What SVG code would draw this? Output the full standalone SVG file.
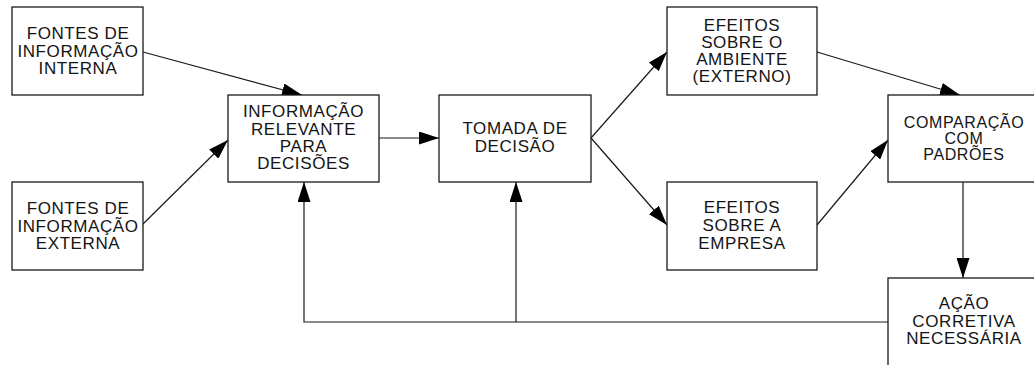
<svg xmlns="http://www.w3.org/2000/svg" width="1034" height="365" viewBox="0 0 1034 365">
  <style>
    .box { fill: #ffffff; stroke: #1a1a1a; stroke-width: 1.3; }
    .lbl { font-family: "Liberation Sans", Arial, sans-serif; font-size: 17px; letter-spacing: 0.6px; fill: #141414; text-anchor: middle; }
    .sm { font-size: 16px; }
    .wire { fill: none; stroke: #1a1a1a; stroke-width: 1.2; }
  </style>
  <defs>
    <marker id="head" markerUnits="userSpaceOnUse" markerWidth="20" markerHeight="13" refX="20" refY="6.5" orient="auto">
      <path d="M0,0 L20,6.5 L0,13 Z" fill="#000"/>
    </marker>
  </defs>
  <rect width="1034" height="365" fill="#ffffff"/>

  <!-- connectors -->
  <g id="connectors">
    <line class="wire" x1="143" y1="52" x2="302" y2="95" marker-end="url(#head)"/>
    <line class="wire" x1="143" y1="224" x2="228" y2="140" marker-end="url(#head)"/>
    <line class="wire" x1="379" y1="138" x2="439" y2="138" marker-end="url(#head)"/>
    <line class="wire" x1="591" y1="138" x2="667" y2="52" marker-end="url(#head)"/>
    <line class="wire" x1="591" y1="138" x2="667" y2="225" marker-end="url(#head)"/>
    <line class="wire" x1="817" y1="52" x2="960" y2="95" marker-end="url(#head)"/>
    <line class="wire" x1="817" y1="225" x2="888" y2="140" marker-end="url(#head)"/>
    <line class="wire" x1="963" y1="182" x2="963" y2="278" marker-end="url(#head)"/>
    <polyline class="wire" points="888,322 304,322 304,182" marker-end="url(#head)"/>
    <line class="wire" x1="516" y1="322" x2="516" y2="182" marker-end="url(#head)"/>
  </g>

  <!-- nodes -->
  <g id="fontes-interna">
    <rect class="box" x="12" y="7" width="131" height="88"/>
    <text class="lbl" x="78" y="39">FONTES DE</text>
    <text class="lbl" x="78" y="56.5">INFORMAÇÃO</text>
    <text class="lbl" x="78" y="74">INTERNA</text>
  </g>

  <g id="fontes-externa">
    <rect class="box" x="12" y="182" width="131" height="88"/>
    <text class="lbl" x="78" y="214">FONTES DE</text>
    <text class="lbl" x="78" y="231.5">INFORMAÇÃO</text>
    <text class="lbl" x="78" y="249">EXTERNA</text>
  </g>

  <g id="informacao-relevante">
    <rect class="box" x="228" y="95" width="151" height="87"/>
    <text class="lbl" x="303.5" y="117.3">INFORMAÇÃO</text>
    <text class="lbl" x="303.5" y="134.8">RELEVANTE</text>
    <text class="lbl" x="303.5" y="152">PARA</text>
    <text class="lbl" x="303.5" y="169.3">DECISÕES</text>
  </g>

  <g id="tomada-decisao">
    <rect class="box" x="439" y="95" width="152" height="87"/>
    <text class="lbl" x="515" y="134.3">TOMADA DE</text>
    <text class="lbl" x="515" y="152.3">DECISÃO</text>
  </g>

  <g id="efeitos-ambiente">
    <rect class="box" x="667" y="7" width="150" height="88"/>
    <text class="lbl" x="742" y="30.5">EFEITOS</text>
    <text class="lbl" x="742" y="47.8">SOBRE O</text>
    <text class="lbl" x="742" y="65">AMBIENTE</text>
    <text class="lbl" x="742" y="82.3">(EXTERNO)</text>
  </g>

  <g id="efeitos-empresa">
    <rect class="box" x="667" y="182" width="150" height="88"/>
    <text class="lbl" x="742" y="213.3">EFEITOS</text>
    <text class="lbl" x="742" y="231">SOBRE A</text>
    <text class="lbl" x="742" y="248.7">EMPRESA</text>
  </g>

  <g id="comparacao">
    <rect class="box" x="888" y="95" width="150" height="87"/>
    <text class="lbl sm" x="964" y="127.5">COMPARAÇÃO</text>
    <text class="lbl sm" x="964" y="143.5">COM</text>
    <text class="lbl sm" x="964" y="160">PADRÕES</text>
  </g>

  <g id="acao-corretiva">
    <rect class="box" x="888" y="278" width="150" height="100"/>
    <text class="lbl" x="964" y="308.5">AÇÃO</text>
    <text class="lbl" x="964" y="326.5">CORRETIVA</text>
    <text class="lbl" x="964" y="343.5">NECESSÁRIA</text>
  </g>
</svg>
